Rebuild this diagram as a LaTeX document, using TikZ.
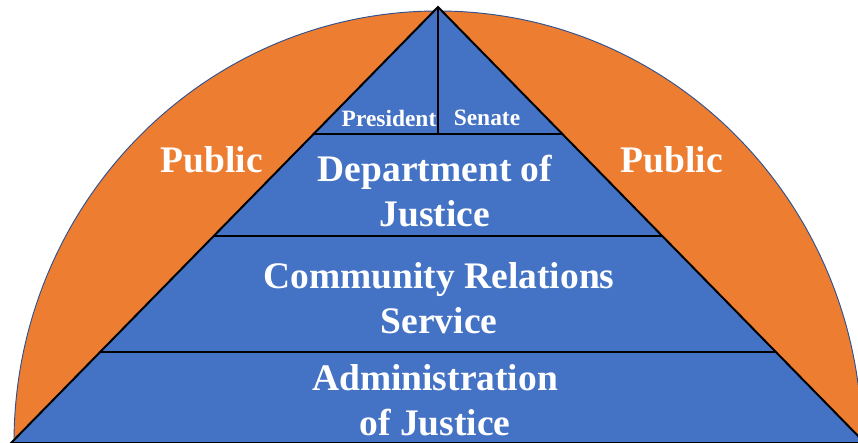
\documentclass[tikz,border=0pt]{standalone}
\usepackage{fontspec}
\setmainfont{Liberation Serif}
\usetikzlibrary{positioning}

\definecolor{tierblue}{HTML}{4472C4}
\definecolor{arcorange}{HTML}{ED7D31}
\definecolor{arcedge}{HTML}{2F528F}

\begin{document}
\begin{tikzpicture}[x=0.03cm, y=-0.03cm,
    tiertext/.style={text=white, font=\fontsize{32}{38}\selectfont\bfseries, align=center},
    smalltext/.style={text=white, font=\fontsize{20}{24}\selectfont\bfseries},
    divider/.style={black, line width=1.3pt}
]
\useasboundingbox (0,0) rectangle (858,443);
\clip (0,0) rectangle (858,443);

% half disc behind the pyramid
\filldraw[fill=arcorange, draw=arcedge, line width=0.8pt] (438,443) ellipse[x radius=12.72cm, y radius=12.96cm];

% pyramid
\coordinate (apex) at (438,7);
\coordinate (bl) at (11,443);
\coordinate (br) at (865,443);
\filldraw[fill=tierblue, draw=black, line width=1.7pt, line join=miter] (apex) -- (bl) -- (br) -- cycle;

% tiers
\draw[divider] (313.5,134) -- (562.5,134);
\draw[divider] (214,236) -- (662,236);
\draw[divider] (100,352) -- (776,352);
\draw[black, line width=0.9pt] (apex) -- (438,134);

\node[smalltext] (pres) at (389,118) {President};
\node[smalltext] (sen) at (487,118) {Senate};
\node[tiertext] (doj) at (435,191) {Department of\\Justice};
\node[tiertext] (crs) at (439,298) {Community Relations\\Service};
\node[tiertext] (admin) at (435,400) {Administration\\of Justice};
\node[tiertext] (publ) at (212,160) {Public};
\node[tiertext] (pubr) at (672,160) {Public};
\end{tikzpicture}
\end{document}
